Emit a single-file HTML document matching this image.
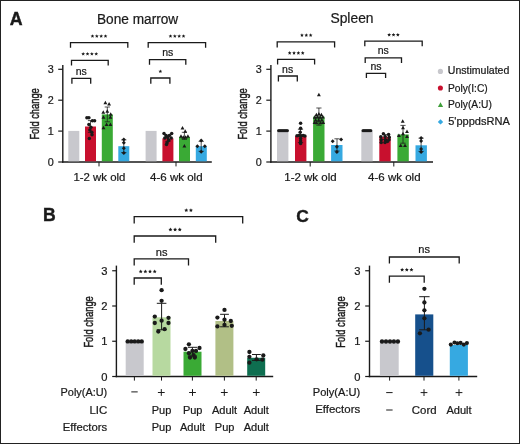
<!DOCTYPE html>
<html><head><meta charset="utf-8"><title>Figure</title>
<style>
html,body{margin:0;padding:0;background:#fff;}
body{width:520px;height:444px;overflow:hidden;}
svg{display:block;will-change:transform;opacity:0.9999;font-family:"Liberation Sans", sans-serif;fill:#1a1a1a;}
text{stroke:#1a1a1a;stroke-width:0.22px;}
</style></head><body>
<svg width="520" height="444" viewBox="0 0 520 444">
<rect x="0" y="0" width="520" height="444" fill="#fff"/>
<text x="9.7" y="24.8" font-size="17.8" text-anchor="start" font-weight="bold" style="stroke-width:0.4px">A</text>
<text x="97.0" y="24.2" font-size="14.0" text-anchor="start" font-weight="normal" textLength="81.2" lengthAdjust="spacingAndGlyphs" >Bone marrow</text>
<text x="330.4" y="22.6" font-size="14.4" text-anchor="start" font-weight="normal" textLength="43.2" lengthAdjust="spacingAndGlyphs" >Spleen</text>
<line x1="62.8" y1="65.1" x2="62.8" y2="162.7" stroke="#1a1a1a" stroke-width="1.4"/>
<line x1="58.199999999999996" y1="162.0" x2="62.8" y2="162.0" stroke="#1a1a1a" stroke-width="1.2"/>
<text x="53.8" y="165.8664" font-size="10.8" text-anchor="end" font-weight="normal" >0</text>
<line x1="58.199999999999996" y1="131.1" x2="62.8" y2="131.1" stroke="#1a1a1a" stroke-width="1.2"/>
<text x="53.8" y="134.9664" font-size="10.8" text-anchor="end" font-weight="normal" >1</text>
<line x1="58.199999999999996" y1="100.2" x2="62.8" y2="100.2" stroke="#1a1a1a" stroke-width="1.2"/>
<text x="53.8" y="104.0664" font-size="10.8" text-anchor="end" font-weight="normal" >2</text>
<line x1="58.199999999999996" y1="69.30000000000001" x2="62.8" y2="69.30000000000001" stroke="#1a1a1a" stroke-width="1.2"/>
<text x="53.8" y="73.16640000000001" font-size="10.8" text-anchor="end" font-weight="normal" >3</text>
<line x1="62.099999999999994" y1="162.0" x2="211.8" y2="162.0" stroke="#1a1a1a" stroke-width="1.4"/>
<line x1="99.0" y1="162.0" x2="99.0" y2="166.4" stroke="#1a1a1a" stroke-width="1.0"/>
<line x1="176.0" y1="162.0" x2="176.0" y2="166.4" stroke="#1a1a1a" stroke-width="1.0"/>
<text transform="translate(38.6,113.9) rotate(-90)" font-size="12" text-anchor="middle" textLength="51.4" lengthAdjust="spacingAndGlyphs" style="stroke-width:0.45px">Fold change</text>
<text x="73.4" y="180.8" font-size="11" text-anchor="start" font-weight="normal" textLength="52.0" lengthAdjust="spacingAndGlyphs" >1-2 wk old</text>
<text x="150.0" y="180.8" font-size="11" text-anchor="start" font-weight="normal" textLength="52.6" lengthAdjust="spacingAndGlyphs" >4-6 wk old</text>
<rect x="68.3" y="130.9" width="11.0" height="30.400000000000006" fill="#c8c8cd"/>
<rect x="85.0" y="126.5" width="11.0" height="34.80000000000001" fill="#c8102e"/>
<rect x="101.8" y="114.4" width="11.0" height="46.900000000000006" fill="#3aaa35"/>
<rect x="118.3" y="146.2" width="11.0" height="15.100000000000023" fill="#36a9e1"/>
<line x1="90.5" y1="120.6" x2="90.5" y2="132.4" stroke="#1a1a1a" stroke-width="0.75"/>
<line x1="87.9" y1="120.6" x2="93.1" y2="120.6" stroke="#1a1a1a" stroke-width="0.75"/>
<line x1="87.9" y1="132.4" x2="93.1" y2="132.4" stroke="#1a1a1a" stroke-width="0.75"/>
<circle cx="86.9" cy="117.7" r="1.75" fill="#1a1a1a"/>
<circle cx="88.9" cy="117.7" r="1.75" fill="#1a1a1a"/>
<circle cx="92.4" cy="120.8" r="1.75" fill="#1a1a1a"/>
<circle cx="94.6" cy="120.8" r="1.75" fill="#1a1a1a"/>
<circle cx="88.9" cy="124.4" r="1.75" fill="#1a1a1a"/>
<circle cx="90.9" cy="127.2" r="1.75" fill="#1a1a1a"/>
<circle cx="89.9" cy="130.0" r="1.75" fill="#1a1a1a"/>
<circle cx="91.8" cy="132.2" r="1.75" fill="#1a1a1a"/>
<circle cx="92.0" cy="134.8" r="1.75" fill="#1a1a1a"/>
<circle cx="89.3" cy="138.4" r="1.75" fill="#1a1a1a"/>
<line x1="107.3" y1="107.0" x2="107.3" y2="121.8" stroke="#1a1a1a" stroke-width="0.75"/>
<line x1="104.7" y1="107.0" x2="109.89999999999999" y2="107.0" stroke="#1a1a1a" stroke-width="0.75"/>
<line x1="104.7" y1="121.8" x2="109.89999999999999" y2="121.8" stroke="#1a1a1a" stroke-width="0.75"/>
<path d="M105.4 100.75750000000001L107.3425 104.27250000000001L103.45750000000001 104.27250000000001Z" fill="#1a1a1a"/>
<path d="M109.1 101.95750000000001L111.04249999999999 105.47250000000001L107.1575 105.47250000000001Z" fill="#1a1a1a"/>
<path d="M107.3 109.1575L109.24249999999999 112.6725L105.3575 112.6725Z" fill="#1a1a1a"/>
<path d="M103.3 110.3575L105.24249999999999 113.8725L101.3575 113.8725Z" fill="#1a1a1a"/>
<path d="M110.7 112.25750000000001L112.6425 115.77250000000001L108.75750000000001 115.77250000000001Z" fill="#1a1a1a"/>
<path d="M103.5 115.3575L105.4425 118.8725L101.5575 118.8725Z" fill="#1a1a1a"/>
<path d="M110.4 115.3575L112.3425 118.8725L108.45750000000001 118.8725Z" fill="#1a1a1a"/>
<path d="M106.6 122.45750000000001L108.54249999999999 125.97250000000001L104.6575 125.97250000000001Z" fill="#1a1a1a"/>
<path d="M110.4 122.45750000000001L112.3425 125.97250000000001L108.45750000000001 125.97250000000001Z" fill="#1a1a1a"/>
<path d="M103.5 125.8575L105.4425 129.3725L101.5575 129.3725Z" fill="#1a1a1a"/>
<line x1="123.8" y1="139.9" x2="123.8" y2="152.6" stroke="#1a1a1a" stroke-width="0.75"/>
<line x1="121.2" y1="139.9" x2="126.39999999999999" y2="139.9" stroke="#1a1a1a" stroke-width="0.75"/>
<line x1="121.2" y1="152.6" x2="126.39999999999999" y2="152.6" stroke="#1a1a1a" stroke-width="0.75"/>
<path d="M123.8 137.5L125.8 139.5L123.8 141.5L121.8 139.5Z" fill="#1a1a1a"/>
<path d="M123.8 140.8L125.8 142.8L123.8 144.8L121.8 142.8Z" fill="#1a1a1a"/>
<path d="M123.8 146.3L125.8 148.3L123.8 150.3L121.8 148.3Z" fill="#1a1a1a"/>
<path d="M123.8 151.0L125.8 153.0L123.8 155.0L121.8 153.0Z" fill="#1a1a1a"/>
<rect x="145.6" y="130.9" width="11.0" height="30.400000000000006" fill="#c8c8cd"/>
<rect x="162.4" y="138.3" width="11.0" height="23.0" fill="#c8102e"/>
<rect x="179.0" y="136.9" width="11.0" height="24.400000000000006" fill="#3aaa35"/>
<rect x="195.8" y="146.2" width="11.0" height="15.100000000000023" fill="#36a9e1"/>
<line x1="167.9" y1="135.2" x2="167.9" y2="141.4" stroke="#1a1a1a" stroke-width="0.75"/>
<line x1="165.3" y1="135.2" x2="170.5" y2="135.2" stroke="#1a1a1a" stroke-width="0.75"/>
<line x1="165.3" y1="141.4" x2="170.5" y2="141.4" stroke="#1a1a1a" stroke-width="0.75"/>
<circle cx="164" cy="133.5" r="1.75" fill="#1a1a1a"/>
<circle cx="171.7" cy="133.5" r="1.75" fill="#1a1a1a"/>
<circle cx="166" cy="135.5" r="1.75" fill="#1a1a1a"/>
<circle cx="169.4" cy="135.5" r="1.75" fill="#1a1a1a"/>
<circle cx="167.7" cy="137.5" r="1.75" fill="#1a1a1a"/>
<circle cx="164.8" cy="138.1" r="1.75" fill="#1a1a1a"/>
<circle cx="171.2" cy="138.1" r="1.75" fill="#1a1a1a"/>
<circle cx="168.6" cy="140.2" r="1.75" fill="#1a1a1a"/>
<circle cx="167.1" cy="142.7" r="1.75" fill="#1a1a1a"/>
<circle cx="166.5" cy="144.4" r="1.75" fill="#1a1a1a"/>
<line x1="184.4" y1="132.3" x2="184.4" y2="139.4" stroke="#1a1a1a" stroke-width="0.75"/>
<line x1="181.8" y1="132.3" x2="187.0" y2="132.3" stroke="#1a1a1a" stroke-width="0.75"/>
<line x1="181.8" y1="139.4" x2="187.0" y2="139.4" stroke="#1a1a1a" stroke-width="0.75"/>
<path d="M182.5 126.0575L184.4425 129.5725L180.5575 129.5725Z" fill="#1a1a1a"/>
<path d="M185.2 129.2575L187.14249999999998 132.77249999999998L183.2575 132.77249999999998Z" fill="#1a1a1a"/>
<path d="M181 134.35750000000002L182.9425 137.8725L179.0575 137.8725Z" fill="#1a1a1a"/>
<path d="M187.9 134.35750000000002L189.8425 137.8725L185.9575 137.8725Z" fill="#1a1a1a"/>
<path d="M183.3 135.35750000000002L185.2425 138.8725L181.35750000000002 138.8725Z" fill="#1a1a1a"/>
<path d="M185.6 135.35750000000002L187.5425 138.8725L183.6575 138.8725Z" fill="#1a1a1a"/>
<path d="M184.4 143.9575L186.3425 147.4725L182.4575 147.4725Z" fill="#1a1a1a"/>
<line x1="201.2" y1="141.4" x2="201.2" y2="151.3" stroke="#1a1a1a" stroke-width="0.75"/>
<line x1="198.6" y1="141.4" x2="203.79999999999998" y2="141.4" stroke="#1a1a1a" stroke-width="0.75"/>
<line x1="198.6" y1="151.3" x2="203.79999999999998" y2="151.3" stroke="#1a1a1a" stroke-width="0.75"/>
<path d="M201.2 138.6L203.2 140.6L201.2 142.6L199.2 140.6Z" fill="#1a1a1a"/>
<path d="M197.4 144.2L199.4 146.2L197.4 148.2L195.4 146.2Z" fill="#1a1a1a"/>
<path d="M204.8 144.2L206.8 146.2L204.8 148.2L202.8 146.2Z" fill="#1a1a1a"/>
<path d="M201.2 149.7L203.2 151.7L201.2 153.7L199.2 151.7Z" fill="#1a1a1a"/>
<path d="M70.5 47.7V42.6H127.8V47.7" fill="none" stroke="#1a1a1a" stroke-width="1.3"/>
<polygon points="92.47,34.20 93.02,35.41 94.33,35.55 93.35,36.43 93.62,37.73 92.47,37.07 91.33,37.73 91.60,36.43 90.62,35.55 91.93,35.41" fill="#1a1a1a"/>
<polygon points="96.82,34.20 97.37,35.41 98.68,35.55 97.70,36.43 97.97,37.73 96.82,37.07 95.68,37.73 95.95,36.43 94.97,35.55 96.28,35.41" fill="#1a1a1a"/>
<polygon points="101.17,34.20 101.72,35.41 103.03,35.55 102.05,36.43 102.32,37.73 101.17,37.07 100.03,37.73 100.30,36.43 99.32,35.55 100.63,35.41" fill="#1a1a1a"/>
<polygon points="105.52,34.20 106.07,35.41 107.38,35.55 106.40,36.43 106.67,37.73 105.52,37.07 104.38,37.73 104.65,36.43 103.67,35.55 104.98,35.41" fill="#1a1a1a"/>
<path d="M71.5 65.5V60.4H108.2V65.5" fill="none" stroke="#1a1a1a" stroke-width="1.3"/>
<polygon points="83.17,52.00 83.72,53.21 85.03,53.35 84.05,54.23 84.32,55.53 83.17,54.87 82.03,55.53 82.30,54.23 81.32,53.35 82.63,53.21" fill="#1a1a1a"/>
<polygon points="87.52,52.00 88.07,53.21 89.38,53.35 88.40,54.23 88.67,55.53 87.52,54.87 86.38,55.53 86.65,54.23 85.67,53.35 86.98,53.21" fill="#1a1a1a"/>
<polygon points="91.88,52.00 92.42,53.21 93.73,53.35 92.75,54.23 93.02,55.53 91.88,54.87 90.73,55.53 91.00,54.23 90.02,53.35 91.33,53.21" fill="#1a1a1a"/>
<polygon points="96.22,52.00 96.77,53.21 98.08,53.35 97.10,54.23 97.37,55.53 96.22,54.87 95.08,55.53 95.35,54.23 94.37,53.35 95.68,53.21" fill="#1a1a1a"/>
<path d="M71.9 83.80000000000001V78.4H90.7V83.80000000000001" fill="none" stroke="#1a1a1a" stroke-width="1.3"/>
<text x="81.3" y="75.30000000000001" font-size="10.5" text-anchor="middle" font-weight="normal" >ns</text>
<path d="M148.2 47.7V42.6H205.6V47.7" fill="none" stroke="#1a1a1a" stroke-width="1.3"/>
<polygon points="170.47,34.20 171.02,35.41 172.33,35.55 171.35,36.43 171.62,37.73 170.47,37.07 169.33,37.73 169.60,36.43 168.62,35.55 169.93,35.41" fill="#1a1a1a"/>
<polygon points="174.82,34.20 175.37,35.41 176.68,35.55 175.70,36.43 175.97,37.73 174.82,37.07 173.68,37.73 173.95,36.43 172.97,35.55 174.28,35.41" fill="#1a1a1a"/>
<polygon points="179.17,34.20 179.72,35.41 181.03,35.55 180.05,36.43 180.32,37.73 179.17,37.07 178.03,37.73 178.30,36.43 177.32,35.55 178.63,35.41" fill="#1a1a1a"/>
<polygon points="183.53,34.20 184.07,35.41 185.38,35.55 184.40,36.43 184.67,37.73 183.53,37.07 182.38,37.73 182.65,36.43 181.67,35.55 182.98,35.41" fill="#1a1a1a"/>
<path d="M149.5 64.7V59.6H185.8V64.7" fill="none" stroke="#1a1a1a" stroke-width="1.3"/>
<text x="167.7" y="56.0" font-size="10.5" text-anchor="middle" font-weight="normal" >ns</text>
<path d="M150.8 83.7V78.0H169.9V83.7" fill="none" stroke="#1a1a1a" stroke-width="1.3"/>
<polygon points="160.35,69.45 160.89,70.66 162.20,70.80 161.22,71.68 161.50,72.98 160.35,72.32 159.20,72.98 159.48,71.68 158.50,70.80 159.81,70.66" fill="#1a1a1a"/>
<line x1="270.9" y1="65.1" x2="270.9" y2="162.7" stroke="#1a1a1a" stroke-width="1.4"/>
<line x1="266.29999999999995" y1="162.0" x2="270.9" y2="162.0" stroke="#1a1a1a" stroke-width="1.2"/>
<text x="261.8" y="165.8664" font-size="10.8" text-anchor="end" font-weight="normal" >0</text>
<line x1="266.29999999999995" y1="131.1" x2="270.9" y2="131.1" stroke="#1a1a1a" stroke-width="1.2"/>
<text x="261.8" y="134.9664" font-size="10.8" text-anchor="end" font-weight="normal" >1</text>
<line x1="266.29999999999995" y1="100.2" x2="270.9" y2="100.2" stroke="#1a1a1a" stroke-width="1.2"/>
<text x="261.8" y="104.0664" font-size="10.8" text-anchor="end" font-weight="normal" >2</text>
<line x1="266.29999999999995" y1="69.30000000000001" x2="270.9" y2="69.30000000000001" stroke="#1a1a1a" stroke-width="1.2"/>
<text x="261.8" y="73.16640000000001" font-size="10.8" text-anchor="end" font-weight="normal" >3</text>
<line x1="270.2" y1="162.0" x2="433.0" y2="162.0" stroke="#1a1a1a" stroke-width="1.4"/>
<line x1="310.2" y1="162.0" x2="310.2" y2="166.5" stroke="#1a1a1a" stroke-width="1.0"/>
<line x1="393.8" y1="162.0" x2="393.8" y2="166.5" stroke="#1a1a1a" stroke-width="1.0"/>
<text transform="translate(247.0,113.9) rotate(-90)" font-size="12" text-anchor="middle" textLength="51.4" lengthAdjust="spacingAndGlyphs" style="stroke-width:0.45px">Fold change</text>
<text x="284.3" y="180.9" font-size="11" text-anchor="start" font-weight="normal" textLength="52.3" lengthAdjust="spacingAndGlyphs" >1-2 wk old</text>
<text x="368.0" y="180.9" font-size="11" text-anchor="start" font-weight="normal" textLength="52.6" lengthAdjust="spacingAndGlyphs" >4-6 wk old</text>
<rect x="277.0" y="130.9" width="11.4" height="30.400000000000006" fill="#c8c8cd"/>
<rect x="295.0" y="135.9" width="11.4" height="25.400000000000006" fill="#c8102e"/>
<rect x="313.1" y="116.6" width="11.4" height="44.70000000000002" fill="#3aaa35"/>
<rect x="331.1" y="145.0" width="11.4" height="16.30000000000001" fill="#36a9e1"/>
<circle cx="278.5" cy="130.8" r="1.45" fill="#1a1a1a"/>
<circle cx="279.5" cy="130.8" r="1.45" fill="#1a1a1a"/>
<circle cx="280.5" cy="130.8" r="1.45" fill="#1a1a1a"/>
<circle cx="281.5" cy="130.8" r="1.45" fill="#1a1a1a"/>
<circle cx="282.5" cy="130.8" r="1.45" fill="#1a1a1a"/>
<circle cx="283.5" cy="130.8" r="1.45" fill="#1a1a1a"/>
<circle cx="284.5" cy="130.8" r="1.45" fill="#1a1a1a"/>
<circle cx="285.5" cy="130.8" r="1.45" fill="#1a1a1a"/>
<circle cx="286.5" cy="130.8" r="1.45" fill="#1a1a1a"/>
<circle cx="287.5" cy="130.8" r="1.45" fill="#1a1a1a"/>
<line x1="300.5" y1="129.3" x2="300.5" y2="142.5" stroke="#1a1a1a" stroke-width="0.75"/>
<line x1="297.9" y1="129.3" x2="303.1" y2="129.3" stroke="#1a1a1a" stroke-width="0.75"/>
<line x1="297.9" y1="142.5" x2="303.1" y2="142.5" stroke="#1a1a1a" stroke-width="0.75"/>
<circle cx="300.6" cy="123.3" r="1.75" fill="#1a1a1a"/>
<circle cx="300.6" cy="128.2" r="1.75" fill="#1a1a1a"/>
<circle cx="300.2" cy="132.2" r="1.75" fill="#1a1a1a"/>
<circle cx="297.0" cy="135.8" r="1.75" fill="#1a1a1a"/>
<circle cx="299.0" cy="135.6" r="1.75" fill="#1a1a1a"/>
<circle cx="301.2" cy="135.8" r="1.75" fill="#1a1a1a"/>
<circle cx="303.2" cy="135.6" r="1.75" fill="#1a1a1a"/>
<circle cx="304.9" cy="135.9" r="1.75" fill="#1a1a1a"/>
<circle cx="300.6" cy="138.4" r="1.75" fill="#1a1a1a"/>
<circle cx="300.6" cy="141.0" r="1.75" fill="#1a1a1a"/>
<circle cx="300.6" cy="143.6" r="1.75" fill="#1a1a1a"/>
<line x1="318.9" y1="108.0" x2="318.9" y2="125.2" stroke="#1a1a1a" stroke-width="0.75"/>
<line x1="316.29999999999995" y1="108.0" x2="321.5" y2="108.0" stroke="#1a1a1a" stroke-width="0.75"/>
<line x1="316.29999999999995" y1="125.2" x2="321.5" y2="125.2" stroke="#1a1a1a" stroke-width="0.75"/>
<path d="M318.9 92.75750000000001L320.8425 96.27250000000001L316.9575 96.27250000000001Z" fill="#1a1a1a"/>
<path d="M316.4 112.6575L318.3425 116.1725L314.4575 116.1725Z" fill="#1a1a1a"/>
<path d="M318.9 112.0575L320.8425 115.5725L316.9575 115.5725Z" fill="#1a1a1a"/>
<path d="M321.4 112.8575L323.3425 116.3725L319.4575 116.3725Z" fill="#1a1a1a"/>
<path d="M314.8 115.25750000000001L316.7425 118.77250000000001L312.8575 118.77250000000001Z" fill="#1a1a1a"/>
<path d="M317.4 115.0575L319.3425 118.5725L315.4575 118.5725Z" fill="#1a1a1a"/>
<path d="M320.2 115.25750000000001L322.1425 118.77250000000001L318.2575 118.77250000000001Z" fill="#1a1a1a"/>
<path d="M322.9 115.0575L324.8425 118.5725L320.9575 118.5725Z" fill="#1a1a1a"/>
<path d="M315.6 118.0575L317.5425 121.5725L313.6575 121.5725Z" fill="#1a1a1a"/>
<path d="M318.6 118.25750000000001L320.5425 121.77250000000001L316.6575 121.77250000000001Z" fill="#1a1a1a"/>
<path d="M321.8 118.0575L323.7425 121.5725L319.8575 121.5725Z" fill="#1a1a1a"/>
<path d="M316.6 120.6575L318.5425 124.1725L314.6575 124.1725Z" fill="#1a1a1a"/>
<path d="M320.6 120.6575L322.5425 124.1725L318.6575 124.1725Z" fill="#1a1a1a"/>
<path d="M314.6 120.45750000000001L316.5425 123.97250000000001L312.6575 123.97250000000001Z" fill="#1a1a1a"/>
<path d="M323.2 120.45750000000001L325.1425 123.97250000000001L321.2575 123.97250000000001Z" fill="#1a1a1a"/>
<line x1="337.0" y1="138.8" x2="337.0" y2="151.0" stroke="#1a1a1a" stroke-width="0.75"/>
<line x1="334.4" y1="138.8" x2="339.6" y2="138.8" stroke="#1a1a1a" stroke-width="0.75"/>
<line x1="334.4" y1="151.0" x2="339.6" y2="151.0" stroke="#1a1a1a" stroke-width="0.75"/>
<path d="M332.7 139.3L334.7 141.3L332.7 143.3L330.7 141.3Z" fill="#1a1a1a"/>
<path d="M341.1 137.6L343.1 139.6L341.1 141.6L339.1 139.6Z" fill="#1a1a1a"/>
<path d="M336.9 144.8L338.9 146.8L336.9 148.8L334.9 146.8Z" fill="#1a1a1a"/>
<path d="M336.9 150.0L338.9 152.0L336.9 154.0L334.9 152.0Z" fill="#1a1a1a"/>
<rect x="361.3" y="130.9" width="11.4" height="30.400000000000006" fill="#c8c8cd"/>
<rect x="379.3" y="136.8" width="11.4" height="24.5" fill="#c8102e"/>
<rect x="397.4" y="134.5" width="11.4" height="26.80000000000001" fill="#3aaa35"/>
<rect x="415.5" y="145.3" width="11.4" height="16.0" fill="#36a9e1"/>
<circle cx="362.9" cy="130.8" r="1.45" fill="#1a1a1a"/>
<circle cx="363.9" cy="130.8" r="1.45" fill="#1a1a1a"/>
<circle cx="364.9" cy="130.8" r="1.45" fill="#1a1a1a"/>
<circle cx="365.9" cy="130.8" r="1.45" fill="#1a1a1a"/>
<circle cx="366.9" cy="130.8" r="1.45" fill="#1a1a1a"/>
<circle cx="367.9" cy="130.8" r="1.45" fill="#1a1a1a"/>
<circle cx="368.9" cy="130.8" r="1.45" fill="#1a1a1a"/>
<circle cx="369.9" cy="130.8" r="1.45" fill="#1a1a1a"/>
<circle cx="370.9" cy="130.8" r="1.45" fill="#1a1a1a"/>
<line x1="385.0" y1="134.6" x2="385.0" y2="139.4" stroke="#1a1a1a" stroke-width="0.75"/>
<line x1="382.4" y1="134.6" x2="387.6" y2="134.6" stroke="#1a1a1a" stroke-width="0.75"/>
<line x1="382.4" y1="139.4" x2="387.6" y2="139.4" stroke="#1a1a1a" stroke-width="0.75"/>
<circle cx="383.4" cy="133.7" r="1.75" fill="#1a1a1a"/>
<circle cx="388.6" cy="134.4" r="1.75" fill="#1a1a1a"/>
<circle cx="380.8" cy="136.8" r="1.75" fill="#1a1a1a"/>
<circle cx="385.2" cy="136.4" r="1.75" fill="#1a1a1a"/>
<circle cx="389.2" cy="137.2" r="1.75" fill="#1a1a1a"/>
<circle cx="381.2" cy="139.8" r="1.75" fill="#1a1a1a"/>
<circle cx="385.4" cy="139.8" r="1.75" fill="#1a1a1a"/>
<circle cx="389.0" cy="139.8" r="1.75" fill="#1a1a1a"/>
<circle cx="381.2" cy="142.4" r="1.75" fill="#1a1a1a"/>
<circle cx="385.0" cy="142.6" r="1.75" fill="#1a1a1a"/>
<circle cx="387.4" cy="141.6" r="1.75" fill="#1a1a1a"/>
<line x1="403.0" y1="125.4" x2="403.0" y2="143.2" stroke="#1a1a1a" stroke-width="0.75"/>
<line x1="400.4" y1="125.4" x2="405.6" y2="125.4" stroke="#1a1a1a" stroke-width="0.75"/>
<line x1="400.4" y1="143.2" x2="405.6" y2="143.2" stroke="#1a1a1a" stroke-width="0.75"/>
<path d="M402.7 119.1575L404.6425 122.6725L400.7575 122.6725Z" fill="#1a1a1a"/>
<path d="M403.0 125.75750000000001L404.9425 129.2725L401.0575 129.2725Z" fill="#1a1a1a"/>
<path d="M407.0 129.5575L408.9425 133.0725L405.0575 133.0725Z" fill="#1a1a1a"/>
<path d="M398.9 133.4575L400.8425 136.9725L396.9575 136.9725Z" fill="#1a1a1a"/>
<path d="M407.0 134.5575L408.9425 138.0725L405.0575 138.0725Z" fill="#1a1a1a"/>
<path d="M400.7 143.4575L402.6425 146.9725L398.7575 146.9725Z" fill="#1a1a1a"/>
<path d="M405.0 143.4575L406.9425 146.9725L403.0575 146.9725Z" fill="#1a1a1a"/>
<path d="M403.0 131.6575L404.9425 135.17249999999999L401.0575 135.17249999999999Z" fill="#1a1a1a"/>
<line x1="421.1" y1="138.2" x2="421.1" y2="151.4" stroke="#1a1a1a" stroke-width="0.75"/>
<line x1="418.5" y1="138.2" x2="423.70000000000005" y2="138.2" stroke="#1a1a1a" stroke-width="0.75"/>
<line x1="418.5" y1="151.4" x2="423.70000000000005" y2="151.4" stroke="#1a1a1a" stroke-width="0.75"/>
<path d="M421.1 135.9L423.1 137.9L421.1 139.9L419.1 137.9Z" fill="#1a1a1a"/>
<path d="M421.1 139.0L423.1 141.0L421.1 143.0L419.1 141.0Z" fill="#1a1a1a"/>
<path d="M421.1 147.0L423.1 149.0L421.1 151.0L419.1 149.0Z" fill="#1a1a1a"/>
<path d="M421.1 150.0L423.1 152.0L421.1 154.0L419.1 152.0Z" fill="#1a1a1a"/>
<path d="M277.2 47.6V41.9H334.6V47.6" fill="none" stroke="#1a1a1a" stroke-width="1.3"/>
<polygon points="301.95,33.30 302.49,34.51 303.80,34.65 302.82,35.53 303.10,36.83 301.95,36.17 300.80,36.83 301.08,35.53 300.10,34.65 301.41,34.51" fill="#1a1a1a"/>
<polygon points="306.30,33.30 306.84,34.51 308.15,34.65 307.17,35.53 307.45,36.83 306.30,36.17 305.15,36.83 305.43,35.53 304.45,34.65 305.76,34.51" fill="#1a1a1a"/>
<polygon points="310.65,33.30 311.19,34.51 312.50,34.65 311.52,35.53 311.80,36.83 310.65,36.17 309.50,36.83 309.78,35.53 308.80,34.65 310.11,34.51" fill="#1a1a1a"/>
<path d="M277.6 64.5V59.4H314.6V64.5" fill="none" stroke="#1a1a1a" stroke-width="1.3"/>
<polygon points="289.68,51.10 290.22,52.31 291.53,52.45 290.55,53.33 290.82,54.63 289.68,53.97 288.53,54.63 288.80,53.33 287.82,52.45 289.13,52.31" fill="#1a1a1a"/>
<polygon points="294.03,51.10 294.57,52.31 295.88,52.45 294.90,53.33 295.17,54.63 294.03,53.97 292.88,54.63 293.15,53.33 292.17,52.45 293.48,52.31" fill="#1a1a1a"/>
<polygon points="298.38,51.10 298.92,52.31 300.23,52.45 299.25,53.33 299.52,54.63 298.38,53.97 297.23,54.63 297.50,53.33 296.52,52.45 297.83,52.31" fill="#1a1a1a"/>
<polygon points="302.73,51.10 303.27,52.31 304.58,52.45 303.60,53.33 303.87,54.63 302.73,53.97 301.58,54.63 301.85,53.33 300.87,52.45 302.18,52.31" fill="#1a1a1a"/>
<path d="M278.4 81.4V76.0H297.3V81.4" fill="none" stroke="#1a1a1a" stroke-width="1.3"/>
<text x="287.6" y="72.80000000000001" font-size="10.5" text-anchor="middle" font-weight="normal" >ns</text>
<path d="M364.8 46.300000000000004V41.2H422.2V46.300000000000004" fill="none" stroke="#1a1a1a" stroke-width="1.3"/>
<polygon points="389.15,32.90 389.69,34.11 391.00,34.25 390.02,35.13 390.30,36.43 389.15,35.77 388.00,36.43 388.28,35.13 387.30,34.25 388.61,34.11" fill="#1a1a1a"/>
<polygon points="393.50,32.90 394.04,34.11 395.35,34.25 394.37,35.13 394.65,36.43 393.50,35.77 392.35,36.43 392.63,35.13 391.65,34.25 392.96,34.11" fill="#1a1a1a"/>
<polygon points="397.85,32.90 398.39,34.11 399.70,34.25 398.72,35.13 399.00,36.43 397.85,35.77 396.70,36.43 396.98,35.13 396.00,34.25 397.31,34.11" fill="#1a1a1a"/>
<path d="M365.2 63.0V57.9H401.5V63.0" fill="none" stroke="#1a1a1a" stroke-width="1.3"/>
<text x="383.3" y="54.3" font-size="10.5" text-anchor="middle" font-weight="normal" >ns</text>
<path d="M366.4 78.10000000000001V73.4H385.6V78.10000000000001" fill="none" stroke="#1a1a1a" stroke-width="1.3"/>
<text x="376.0" y="69.9" font-size="10.5" text-anchor="middle" font-weight="normal" >ns</text>
<circle cx="440.4" cy="71.4" r="2.6" fill="#c8c8cd"/>
<circle cx="440.4" cy="88.0" r="2.55" fill="#c8102e"/>
<path d="M440.5 102.275L443.125 107.025L437.875 107.025Z" fill="#3f9f3a"/>
<path d="M440.5 119.2L443.2 121.9L440.5 124.60000000000001L437.8 121.9Z" fill="#36a9e1"/>
<text x="447.8" y="74.4" font-size="10.5" text-anchor="start" font-weight="normal" textLength="61.5" lengthAdjust="spacingAndGlyphs" >Unstimulated</text>
<text x="447.9" y="91.6" font-size="10.5" text-anchor="start" font-weight="normal" textLength="39.8" lengthAdjust="spacingAndGlyphs" >Poly(I:C)</text>
<text x="448.0" y="108.2" font-size="10.5" text-anchor="start" font-weight="normal" textLength="43.8" lengthAdjust="spacingAndGlyphs" >Poly(A:U)</text>
<text x="448.2" y="125.2" font-size="10.5" text-anchor="start" font-weight="normal" textLength="61.6" lengthAdjust="spacingAndGlyphs" >5'pppdsRNA</text>
<text x="43.0" y="221.3" font-size="17.6" text-anchor="start" font-weight="bold" style="stroke-width:0.4px">B</text>
<line x1="116.4" y1="265.6" x2="116.4" y2="377.2" stroke="#1a1a1a" stroke-width="1.4"/>
<line x1="112.2" y1="376.5" x2="116.4" y2="376.5" stroke="#1a1a1a" stroke-width="1.2"/>
<text x="107.5" y="380.5096" font-size="11.2" text-anchor="end" font-weight="normal" >0</text>
<line x1="112.2" y1="341.25" x2="116.4" y2="341.25" stroke="#1a1a1a" stroke-width="1.2"/>
<text x="107.5" y="345.2596" font-size="11.2" text-anchor="end" font-weight="normal" >1</text>
<line x1="112.2" y1="306.0" x2="116.4" y2="306.0" stroke="#1a1a1a" stroke-width="1.2"/>
<text x="107.5" y="310.0096" font-size="11.2" text-anchor="end" font-weight="normal" >2</text>
<line x1="112.2" y1="270.75" x2="116.4" y2="270.75" stroke="#1a1a1a" stroke-width="1.2"/>
<text x="107.5" y="274.7596" font-size="11.2" text-anchor="end" font-weight="normal" >3</text>
<line x1="115.7" y1="376.5" x2="273.2" y2="376.5" stroke="#1a1a1a" stroke-width="1.4"/>
<line x1="134.4" y1="376.5" x2="134.4" y2="380.6" stroke="#1a1a1a" stroke-width="1.0"/>
<line x1="161.5" y1="376.5" x2="161.5" y2="380.6" stroke="#1a1a1a" stroke-width="1.0"/>
<line x1="192.4" y1="376.5" x2="192.4" y2="380.6" stroke="#1a1a1a" stroke-width="1.0"/>
<line x1="224.4" y1="376.5" x2="224.4" y2="380.6" stroke="#1a1a1a" stroke-width="1.0"/>
<line x1="256.2" y1="376.5" x2="256.2" y2="380.6" stroke="#1a1a1a" stroke-width="1.0"/>
<text transform="translate(92.6,321.9) rotate(-90)" font-size="12" text-anchor="middle" textLength="51.4" lengthAdjust="spacingAndGlyphs" style="stroke-width:0.45px">Fold change</text>
<rect x="125.7" y="342.0" width="18.0" height="33.80000000000001" fill="#c8c8cd"/>
<rect x="152.5" y="317.3" width="18.0" height="58.5" fill="#b7d9a0"/>
<rect x="183.5" y="351.7" width="18.0" height="24.100000000000023" fill="#3aaa35"/>
<rect x="215.4" y="321.0" width="18.0" height="54.80000000000001" fill="#b1bf86"/>
<rect x="247.2" y="357.8" width="18.0" height="18.0" fill="#0e6e50"/>
<circle cx="127.7" cy="341.4" r="2.2" fill="#1a1a1a"/>
<circle cx="131.2" cy="341.4" r="2.2" fill="#1a1a1a"/>
<circle cx="134.7" cy="341.4" r="2.2" fill="#1a1a1a"/>
<circle cx="138.2" cy="341.4" r="2.2" fill="#1a1a1a"/>
<circle cx="141.7" cy="341.4" r="2.2" fill="#1a1a1a"/>
<line x1="161.6" y1="303.3" x2="161.6" y2="329.8" stroke="#1a1a1a" stroke-width="1.0"/>
<line x1="156.79999999999998" y1="303.3" x2="166.4" y2="303.3" stroke="#1a1a1a" stroke-width="1.0"/>
<line x1="156.79999999999998" y1="329.8" x2="166.4" y2="329.8" stroke="#1a1a1a" stroke-width="1.0"/>
<circle cx="161.6" cy="290.2" r="2.15" fill="#1a1a1a"/>
<circle cx="161.6" cy="300.8" r="2.15" fill="#1a1a1a"/>
<circle cx="154.8" cy="316.6" r="2.15" fill="#1a1a1a"/>
<circle cx="168.5" cy="317.8" r="2.15" fill="#1a1a1a"/>
<circle cx="154.8" cy="323.0" r="2.15" fill="#1a1a1a"/>
<circle cx="161.6" cy="320.7" r="2.15" fill="#1a1a1a"/>
<circle cx="168.5" cy="323.0" r="2.15" fill="#1a1a1a"/>
<circle cx="158.3" cy="331.5" r="2.15" fill="#1a1a1a"/>
<circle cx="164.6" cy="329.2" r="2.15" fill="#1a1a1a"/>
<line x1="192.4" y1="347.3" x2="192.4" y2="356.0" stroke="#1a1a1a" stroke-width="1.0"/>
<line x1="187.8" y1="347.3" x2="197.0" y2="347.3" stroke="#1a1a1a" stroke-width="1.0"/>
<line x1="187.8" y1="356.0" x2="197.0" y2="356.0" stroke="#1a1a1a" stroke-width="1.0"/>
<circle cx="188.9" cy="344.3" r="2.15" fill="#1a1a1a"/>
<circle cx="185.4" cy="349.0" r="2.15" fill="#1a1a1a"/>
<circle cx="199.5" cy="348.0" r="2.15" fill="#1a1a1a"/>
<circle cx="192.4" cy="350.9" r="2.15" fill="#1a1a1a"/>
<circle cx="196.0" cy="350.9" r="2.15" fill="#1a1a1a"/>
<circle cx="188.9" cy="353.2" r="2.15" fill="#1a1a1a"/>
<circle cx="193.6" cy="355.1" r="2.15" fill="#1a1a1a"/>
<circle cx="190.0" cy="357.5" r="2.15" fill="#1a1a1a"/>
<circle cx="194.8" cy="357.5" r="2.15" fill="#1a1a1a"/>
<line x1="224.5" y1="314.3" x2="224.5" y2="326.8" stroke="#1a1a1a" stroke-width="1.0"/>
<line x1="220.1" y1="314.3" x2="228.9" y2="314.3" stroke="#1a1a1a" stroke-width="1.0"/>
<line x1="220.1" y1="326.8" x2="228.9" y2="326.8" stroke="#1a1a1a" stroke-width="1.0"/>
<circle cx="224.5" cy="309.9" r="2.15" fill="#1a1a1a"/>
<circle cx="217.4" cy="317.6" r="2.15" fill="#1a1a1a"/>
<circle cx="224.5" cy="319.7" r="2.15" fill="#1a1a1a"/>
<circle cx="230.8" cy="321.0" r="2.15" fill="#1a1a1a"/>
<circle cx="217.4" cy="326.4" r="2.15" fill="#1a1a1a"/>
<circle cx="224.5" cy="324.9" r="2.15" fill="#1a1a1a"/>
<circle cx="231.8" cy="325.8" r="2.15" fill="#1a1a1a"/>
<line x1="256.4" y1="354.5" x2="256.4" y2="360.4" stroke="#1a1a1a" stroke-width="1.0"/>
<line x1="251.99999999999997" y1="354.5" x2="260.79999999999995" y2="354.5" stroke="#1a1a1a" stroke-width="1.0"/>
<line x1="251.99999999999997" y1="360.4" x2="260.79999999999995" y2="360.4" stroke="#1a1a1a" stroke-width="1.0"/>
<circle cx="249.4" cy="352.0" r="2.15" fill="#1a1a1a"/>
<circle cx="249.4" cy="356.8" r="2.15" fill="#1a1a1a"/>
<circle cx="263.3" cy="355.5" r="2.15" fill="#1a1a1a"/>
<circle cx="256.6" cy="359.3" r="2.15" fill="#1a1a1a"/>
<circle cx="262.4" cy="359.7" r="2.15" fill="#1a1a1a"/>
<circle cx="249.4" cy="362.7" r="2.15" fill="#1a1a1a"/>
<path d="M134.2 223.4V216.6H242.7V223.4" fill="none" stroke="#1a1a1a" stroke-width="1.3"/>
<polygon points="186.27,208.26 186.85,209.55 188.26,209.71 187.21,210.65 187.50,212.04 186.27,211.33 185.05,212.04 185.34,210.65 184.29,209.71 185.69,209.55" fill="#1a1a1a"/>
<polygon points="190.93,208.26 191.51,209.55 192.91,209.71 191.86,210.65 192.15,212.04 190.93,211.33 189.70,212.04 189.99,210.65 188.94,209.71 190.35,209.55" fill="#1a1a1a"/>
<path d="M134.2 242.8V236.0H215.7V242.8" fill="none" stroke="#1a1a1a" stroke-width="1.3"/>
<polygon points="170.45,227.56 171.02,228.85 172.43,229.01 171.38,229.95 171.67,231.34 170.45,230.63 169.22,231.34 169.51,229.95 168.46,229.01 169.87,228.85" fill="#1a1a1a"/>
<polygon points="175.10,227.56 175.68,228.85 177.08,229.01 176.04,229.95 176.33,231.34 175.10,230.63 173.87,231.34 174.16,229.95 173.12,229.01 174.52,228.85" fill="#1a1a1a"/>
<polygon points="179.75,227.56 180.33,228.85 181.74,229.01 180.69,229.95 180.98,231.34 179.75,230.63 178.53,231.34 178.82,229.95 177.77,229.01 179.18,228.85" fill="#1a1a1a"/>
<path d="M134.2 265.5V258.9H188.5V265.5" fill="none" stroke="#1a1a1a" stroke-width="1.3"/>
<text x="161.7" y="255.5" font-size="11.1" text-anchor="middle" font-weight="normal" >ns</text>
<path d="M134.2 284.7V278.0H161.3V284.7" fill="none" stroke="#1a1a1a" stroke-width="1.3"/>
<polygon points="140.72,269.46 141.30,270.75 142.70,270.91 141.65,271.85 141.94,273.24 140.72,272.53 139.49,273.24 139.78,271.85 138.73,270.91 140.14,270.75" fill="#1a1a1a"/>
<polygon points="145.37,269.46 145.95,270.75 147.36,270.91 146.31,271.85 146.60,273.24 145.37,272.53 144.15,273.24 144.44,271.85 143.39,270.91 144.79,270.75" fill="#1a1a1a"/>
<polygon points="150.03,269.46 150.61,270.75 152.01,270.91 150.96,271.85 151.25,273.24 150.03,272.53 148.80,273.24 149.09,271.85 148.04,270.91 149.45,270.75" fill="#1a1a1a"/>
<polygon points="154.68,269.46 155.26,270.75 156.67,270.91 155.62,271.85 155.91,273.24 154.68,272.53 153.46,273.24 153.75,271.85 152.70,270.91 154.10,270.75" fill="#1a1a1a"/>
<text x="107.2" y="395.7" font-size="10.8" text-anchor="end" font-weight="normal" textLength="46.6" lengthAdjust="spacingAndGlyphs" >Poly(A:U)</text>
<text x="107.3" y="413.7" font-size="10.8" text-anchor="end" font-weight="normal" textLength="17.8" lengthAdjust="spacingAndGlyphs" >LIC</text>
<text x="107.2" y="430.7" font-size="10.8" text-anchor="end" font-weight="normal" textLength="44.4" lengthAdjust="spacingAndGlyphs" >Effectors</text>
<line x1="131.3" y1="391.9" x2="137.7" y2="391.9" stroke="#1a1a1a" stroke-width="1.0"/>
<line x1="157.9" y1="392.5" x2="164.70000000000002" y2="392.5" stroke="#1a1a1a" stroke-width="1.0"/>
<line x1="161.3" y1="389.1" x2="161.3" y2="395.9" stroke="#1a1a1a" stroke-width="1.0"/>
<line x1="189.1" y1="392.5" x2="195.9" y2="392.5" stroke="#1a1a1a" stroke-width="1.0"/>
<line x1="192.5" y1="389.1" x2="192.5" y2="395.9" stroke="#1a1a1a" stroke-width="1.0"/>
<line x1="220.9" y1="392.5" x2="227.70000000000002" y2="392.5" stroke="#1a1a1a" stroke-width="1.0"/>
<line x1="224.3" y1="389.1" x2="224.3" y2="395.9" stroke="#1a1a1a" stroke-width="1.0"/>
<line x1="252.9" y1="392.5" x2="259.7" y2="392.5" stroke="#1a1a1a" stroke-width="1.0"/>
<line x1="256.3" y1="389.1" x2="256.3" y2="395.9" stroke="#1a1a1a" stroke-width="1.0"/>
<text x="161.5" y="413.7" font-size="11" text-anchor="middle" font-weight="normal" textLength="19.6" lengthAdjust="spacingAndGlyphs" >Pup</text>
<text x="192.7" y="413.7" font-size="11" text-anchor="middle" font-weight="normal" textLength="19.6" lengthAdjust="spacingAndGlyphs" >Pup</text>
<text x="224.5" y="413.7" font-size="11" text-anchor="middle" font-weight="normal" textLength="25.2" lengthAdjust="spacingAndGlyphs" >Adult</text>
<text x="256.3" y="413.7" font-size="11" text-anchor="middle" font-weight="normal" textLength="25.2" lengthAdjust="spacingAndGlyphs" >Adult</text>
<text x="161.5" y="430.7" font-size="11" text-anchor="middle" font-weight="normal" textLength="19.6" lengthAdjust="spacingAndGlyphs" >Pup</text>
<text x="192.5" y="430.7" font-size="11" text-anchor="middle" font-weight="normal" textLength="25.2" lengthAdjust="spacingAndGlyphs" >Adult</text>
<text x="224.6" y="430.7" font-size="11" text-anchor="middle" font-weight="normal" textLength="19.6" lengthAdjust="spacingAndGlyphs" >Pup</text>
<text x="256.3" y="430.7" font-size="11" text-anchor="middle" font-weight="normal" textLength="25.2" lengthAdjust="spacingAndGlyphs" >Adult</text>
<text x="296.2" y="221.9" font-size="17.4" text-anchor="start" font-weight="bold" style="stroke-width:0.4px">C</text>
<line x1="369.5" y1="265.6" x2="369.5" y2="377.2" stroke="#1a1a1a" stroke-width="1.4"/>
<line x1="365.2" y1="376.5" x2="369.5" y2="376.5" stroke="#1a1a1a" stroke-width="1.2"/>
<text x="360.4" y="380.5096" font-size="11.2" text-anchor="end" font-weight="normal" >0</text>
<line x1="365.2" y1="341.25" x2="369.5" y2="341.25" stroke="#1a1a1a" stroke-width="1.2"/>
<text x="360.4" y="345.2596" font-size="11.2" text-anchor="end" font-weight="normal" >1</text>
<line x1="365.2" y1="306.0" x2="369.5" y2="306.0" stroke="#1a1a1a" stroke-width="1.2"/>
<text x="360.4" y="310.0096" font-size="11.2" text-anchor="end" font-weight="normal" >2</text>
<line x1="365.2" y1="270.75" x2="369.5" y2="270.75" stroke="#1a1a1a" stroke-width="1.2"/>
<text x="360.4" y="274.7596" font-size="11.2" text-anchor="end" font-weight="normal" >3</text>
<line x1="368.8" y1="376.5" x2="477.2" y2="376.5" stroke="#1a1a1a" stroke-width="1.4"/>
<line x1="389.6" y1="376.5" x2="389.6" y2="380.6" stroke="#1a1a1a" stroke-width="1.0"/>
<line x1="424.0" y1="376.5" x2="424.0" y2="380.6" stroke="#1a1a1a" stroke-width="1.0"/>
<line x1="458.9" y1="376.5" x2="458.9" y2="380.6" stroke="#1a1a1a" stroke-width="1.0"/>
<text transform="translate(344.6,322.0) rotate(-90)" font-size="12" text-anchor="middle" textLength="51.4" lengthAdjust="spacingAndGlyphs" style="stroke-width:0.45px">Fold change</text>
<rect x="379.9" y="342.2" width="18.8" height="33.60000000000002" fill="#c8c8cd"/>
<rect x="415.2" y="314.4" width="18.1" height="61.400000000000034" fill="#16508c"/>
<rect x="449.8" y="345.0" width="18.1" height="30.80000000000001" fill="#36a9e1"/>
<circle cx="382.0" cy="341.5" r="2.2" fill="#1a1a1a"/>
<circle cx="386.0" cy="341.5" r="2.2" fill="#1a1a1a"/>
<circle cx="390.0" cy="341.5" r="2.2" fill="#1a1a1a"/>
<circle cx="393.9" cy="341.5" r="2.2" fill="#1a1a1a"/>
<circle cx="397.9" cy="341.5" r="2.2" fill="#1a1a1a"/>
<line x1="424.4" y1="296.7" x2="424.4" y2="329.8" stroke="#1a1a1a" stroke-width="1.0"/>
<line x1="419.2" y1="296.7" x2="429.59999999999997" y2="296.7" stroke="#1a1a1a" stroke-width="1.0"/>
<line x1="419.2" y1="329.8" x2="429.59999999999997" y2="329.8" stroke="#1a1a1a" stroke-width="1.0"/>
<circle cx="424.4" cy="288.8" r="2.15" fill="#1a1a1a"/>
<circle cx="424.4" cy="302.5" r="2.15" fill="#1a1a1a"/>
<circle cx="424.4" cy="310.3" r="2.15" fill="#1a1a1a"/>
<circle cx="424.4" cy="318.3" r="2.15" fill="#1a1a1a"/>
<circle cx="428.6" cy="329.7" r="2.15" fill="#1a1a1a"/>
<circle cx="419.9" cy="333.3" r="2.15" fill="#1a1a1a"/>
<circle cx="450.8" cy="344.6" r="2.05" fill="#1a1a1a"/>
<circle cx="454.5" cy="342.5" r="2.05" fill="#1a1a1a"/>
<circle cx="457.4" cy="343.2" r="2.05" fill="#1a1a1a"/>
<circle cx="460.6" cy="342.9" r="2.05" fill="#1a1a1a"/>
<circle cx="463.8" cy="344.6" r="2.05" fill="#1a1a1a"/>
<circle cx="466.9" cy="343.1" r="2.05" fill="#1a1a1a"/>
<line x1="454.0" y1="343.6" x2="464.0" y2="343.6" stroke="#1a1a1a" stroke-width="0.9"/>
<path d="M389.4 263.4V257.0H459.2V263.4" fill="none" stroke="#1a1a1a" stroke-width="1.3"/>
<text x="424.2" y="253.20000000000002" font-size="11.1" text-anchor="middle" font-weight="normal" >ns</text>
<path d="M389.4 282.8V276.2H424.2V282.8" fill="none" stroke="#1a1a1a" stroke-width="1.3"/>
<polygon points="402.15,267.66 402.72,268.95 404.13,269.11 403.08,270.05 403.37,271.44 402.15,270.73 400.92,271.44 401.21,270.05 400.16,269.11 401.57,268.95" fill="#1a1a1a"/>
<polygon points="406.80,267.66 407.38,268.95 408.78,269.11 407.74,270.05 408.03,271.44 406.80,270.73 405.57,271.44 405.86,270.05 404.82,269.11 406.22,268.95" fill="#1a1a1a"/>
<polygon points="411.45,267.66 412.03,268.95 413.44,269.11 412.39,270.05 412.68,271.44 411.45,270.73 410.23,271.44 410.52,270.05 409.47,269.11 410.88,268.95" fill="#1a1a1a"/>
<text x="360.2" y="395.8" font-size="10.8" text-anchor="end" font-weight="normal" textLength="47.4" lengthAdjust="spacingAndGlyphs" >Poly(A:U)</text>
<text x="360.2" y="413.4" font-size="10.8" text-anchor="end" font-weight="normal" textLength="45.0" lengthAdjust="spacingAndGlyphs" >Effectors</text>
<line x1="386.2" y1="392.6" x2="392.59999999999997" y2="392.6" stroke="#1a1a1a" stroke-width="1.0"/>
<line x1="386.2" y1="410.0" x2="392.59999999999997" y2="410.0" stroke="#1a1a1a" stroke-width="1.0"/>
<line x1="420.6" y1="392.6" x2="427.4" y2="392.6" stroke="#1a1a1a" stroke-width="1.0"/>
<line x1="424.0" y1="389.20000000000005" x2="424.0" y2="396.0" stroke="#1a1a1a" stroke-width="1.0"/>
<line x1="455.6" y1="392.6" x2="462.4" y2="392.6" stroke="#1a1a1a" stroke-width="1.0"/>
<line x1="459.0" y1="389.20000000000005" x2="459.0" y2="396.0" stroke="#1a1a1a" stroke-width="1.0"/>
<text x="424.2" y="413.6" font-size="11" text-anchor="middle" font-weight="normal" textLength="24.8" lengthAdjust="spacingAndGlyphs" >Cord</text>
<text x="459.0" y="413.6" font-size="11" text-anchor="middle" font-weight="normal" textLength="25.2" lengthAdjust="spacingAndGlyphs" >Adult</text>
<rect x="0.5" y="0.5" width="519" height="443" fill="none" stroke="#222" stroke-width="1"/>
</svg>
</body></html>
